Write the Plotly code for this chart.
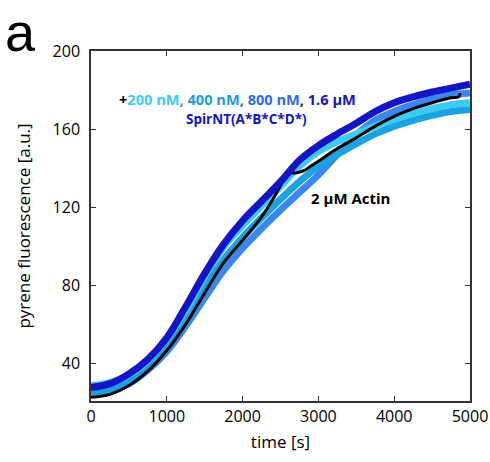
import plotly.graph_objects as go

# Time axis shared by the SpirNT traces (seconds)
time_s = [0, 250, 500, 750, 1000, 1250, 1500, 1750, 2000, 2250, 2500,
          2750, 3000, 3250, 3500, 3750, 4000, 4250, 4500, 4750, 5000]

# Pyrene fluorescence (a.u.) for 2 µM actin + SpirNT(A*B*C*D*)
spir_200nM = [28.5, 30, 34, 41.5, 52.5, 67, 84.5, 99.5, 110.5, 120.5, 130.5,
              141, 148.5, 153.5, 157.5, 161.5, 165, 168, 170.5, 172.5, 173.5]
spir_400nM = [25, 26.5, 31, 38.5, 49, 62.5, 78.5, 93, 104.5, 114.5, 124,
              133, 141, 147, 152.5, 157.5, 161.5, 164.5, 167, 169, 170]
spir_800nM = [25.5, 26, 29.5, 36.5, 46, 59, 73.5, 87.5, 99, 109, 118.5,
              127.5, 136.5, 147, 157, 164.5, 169, 172.5, 175.5, 177.5, 178.5]
spir_1600nM = [27.5, 29.5, 34.5, 42, 53, 69, 86, 101, 113, 123, 133,
               144, 151.5, 157.5, 163, 169, 173.5, 176.5, 179, 181, 183]

# Actin alone
actin_time = [0, 250, 500, 750, 1000, 1250, 1500, 1750, 2000, 2250, 2400,
              2500, 2600, 2700, 2800, 2900, 3000, 3250, 3500, 3750, 4000,
              4250, 4500, 4750, 4850, 4870]
actin_only = [22.5, 24, 28.5, 36, 46.5, 60, 76, 91.5, 103, 115, 124,
              131, 137, 137.5, 138.5, 141, 143.5, 150, 155.5, 161.5, 166.5,
              170.5, 173.5, 176, 176.5, 178.5]

series = [
    ("800 nM", spir_800nM, "#3a87f0"),
    ("400 nM", spir_400nM, "#1aa3e0"),
    ("200 nM", spir_200nM, "#3dcbf5"),
]

fig = go.Figure()
for name, vals, col in series:
    fig.add_trace(go.Scatter(x=time_s, y=vals, mode="lines", name=name,
                             line=dict(color=col, width=7, shape="spline")))
fig.add_trace(go.Scatter(x=actin_time, y=actin_only, mode="lines", name="2 µM Actin",
                         line=dict(color="black", width=3, shape="spline")))
fig.add_trace(go.Scatter(x=time_s, y=spir_1600nM, mode="lines", name="1.6 µM",
                         line=dict(color="#1414c8", width=7, shape="spline")))

axis_common = dict(
    showline=True, linecolor="#333333", linewidth=1.5, mirror="ticks",
    ticks="inside", ticklen=5, tickwidth=1.2, tickcolor="#333333",
    showgrid=False, zeroline=False, automargin=False,
    tickfont=dict(family="Open Sans", size=16, color="black"),
)

fig.update_xaxes(range=[0, 5000], tickvals=[0, 1000, 2000, 3000, 4000, 5000],
                 title=dict(text="time [s]", standoff=10,
                            font=dict(family="Open Sans", size=17, color="black")),
                 **axis_common)
fig.update_yaxes(range=[20.6, 200], tickvals=[40, 80, 120, 160, 200],
                 ticklabelstandoff=6,
                 title=dict(text="pyrene fluorescence [a.u.]", standoff=18,
                            font=dict(family="Open Sans", size=17, color="black")),
                 **axis_common)

line1 = ("<b>+<span style='color:#3dcbf5'>200 nM</span>"
         "<span style='color:#1e9bdc'>, 400 nM</span>"
         "<span style='color:#2d6ee6'>, 800 nM</span>"
         "<span style='color:#1414c8'>, 1.6 µM</span></b>")

fig.update_layout(
    width=490, height=462,
    margin=dict(l=91, r=20, t=51, b=61),
    paper_bgcolor="white", plot_bgcolor="white",
    showlegend=False,
    annotations=[
        dict(text=line1, xref="paper", yref="paper", x=0.3865, y=0.864,
             xanchor="center", yanchor="middle", showarrow=False,
             font=dict(family="Open Sans", size=14.6, color="black")),
        dict(text="<b>SpirNT(A*B*C*D*)</b>", xref="paper", yref="paper",
             x=0.41, y=0.807, xanchor="center", yanchor="middle", showarrow=False,
             font=dict(family="Open Sans", size=13.5, color="#1414c8")),
        dict(text="<b>2 µM Actin</b>", xref="paper", yref="paper",
             x=0.686, y=0.58, xanchor="center", yanchor="middle", showarrow=False,
             font=dict(family="Open Sans", size=15, color="black")),
        dict(text="a", xref="paper", yref="paper", x=-0.187, y=1.145,
             xanchor="center", yanchor="top", showarrow=False,
             font=dict(family="Liberation Sans", size=54, color="black")),
    ],
)

fig.write_html("out.html")
